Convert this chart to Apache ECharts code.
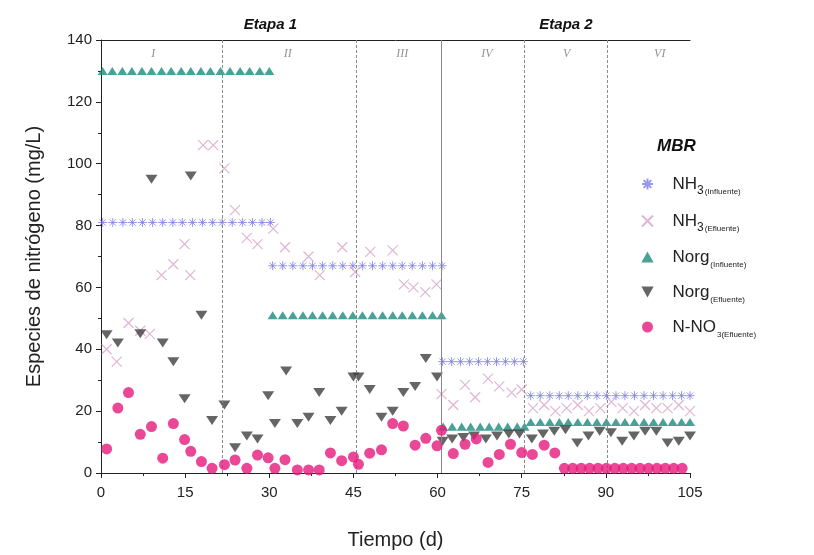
<!DOCTYPE html>
<html>
<head>
<meta charset="utf-8">
<script src="https://cdn.jsdelivr.net/npm/echarts@6/dist/echarts.min.js"></script>
<style>html,body{margin:0;padding:0;background:#fff}#c{width:814px;height:555px}</style>
</head>
<body>
<div id="c"></div>
<script>
// ---- Data ----
const nh3InfDays = [0.3,2.1,3.9,5.6,7.4,9.2,11.0,12.8,14.5,16.3,18.1,19.9,21.6,23.4,25.2,27.0,28.7,30.2,
  30.6,32.4,34.2,36.0,37.7,39.5,41.3,43.1,44.9,46.6,48.4,50.2,52.0,53.7,55.5,57.3,59.1,60.8,
  60.9,62.5,64.1,65.7,67.3,68.9,70.5,72.1,73.7,75.3,
  76.6,78.3,80.0,81.7,83.3,85.0,86.7,88.4,90.1,91.8,93.4,95.1,96.8,98.5,100.2,101.9,103.5,105.0];
const nh3InfVals = [81,81,81,81,81,81,81,81,81,81,81,81,81,81,81,81,81,81,
  67,67,67,67,67,67,67,67,67,67,67,67,67,67,67,67,67,67,
  36,36,36,36,36,36,36,36,36,36,
  25,25,25,25,25,25,25,25,25,25,25,25,25,25,25,25,25,25];

const nh3EffDays = [1.0,2.8,4.9,7.0,8.7,10.8,12.9,14.9,15.9,18.2,20.0,22.0,23.9,26.0,27.9,30.7,
  32.8,37.0,39.0,43.0,45.3,48.0,52.0,54.0,55.7,57.8,59.8,
  60.7,62.8,64.9,66.7,69.0,71.0,73.2,75.0,
  77.0,79.0,81.0,83.0,85.0,87.0,89.0,91.0,93.0,95.0,97.0,99.0,101.0,103.0,105.0];
const nh3EffVals = [40,36,48.5,46,45,64,67.5,74,64,106,106,98.5,85,76,74,79,
  73,70,64,73,65,71.5,72,61,60,58.5,61,
  25.5,22,28.5,24.5,30.5,28,26,27,
  21,22,20,21,22,20,21,23,21,20,22,21,21,22,20];

const norgInfDays = [0.3,2.0,3.8,5.5,7.3,9.0,10.8,12.5,14.3,16.0,17.8,19.5,21.3,23.0,24.8,26.5,28.3,30.0,
  30.6,32.4,34.2,36.0,37.7,39.5,41.3,43.1,44.9,46.6,48.4,50.2,52.0,53.7,55.5,57.3,59.1,60.7,
  61.0,62.6,64.3,65.9,67.6,69.2,70.9,72.5,74.2,75.5,
  76.6,78.3,80.0,81.7,83.3,85.0,86.7,88.4,90.1,91.8,93.4,95.1,96.8,98.5,100.2,101.9,103.5,105.0];
const norgInfVals = [130,130,130,130,130,130,130,130,130,130,130,130,130,130,130,130,130,130,
  51,51,51,51,51,51,51,51,51,51,51,51,51,51,51,51,51,51,
  15,15,15,15,15,15,15,15,15,15,
  16.5,16.5,16.5,16.5,16.5,16.5,16.5,16.5,16.5,16.5,16.5,16.5,16.5,16.5,16.5,16.5,16.5,16.5];

const norgEffDays = [1.0,3.0,7.0,9.0,11.0,12.9,14.9,16.0,17.9,19.8,22.0,23.9,26.0,27.9,29.8,
  31.0,33.0,35.0,37.0,38.9,40.9,42.9,45.0,45.9,47.9,50.0,52.0,53.9,56.0,57.9,59.9,
  60.9,62.6,64.6,66.5,68.6,70.6,72.7,74.6,
  76.8,78.8,80.8,82.8,84.9,86.9,88.9,90.9,92.9,95.0,97.0,99.0,101.0,103.0,105.0];
const norgEffVals = [44.7,42,45,95,42,36,24,96,51,17,22,8.2,12,11,25,
  16,33,16,18,26,17,20,31,31,27,18,20,26,28,37,31,
  10.3,11,11.5,12,11,12,12.6,12.6,
  11,12.6,13.5,14,9.7,12,13.5,13,10.3,12,13.5,13.5,9.7,10.3,12];

const no3Days = [1.0,3.0,4.9,7.0,9.0,11.0,12.9,14.9,16.0,17.9,19.8,22.0,23.9,26.0,27.9,29.8,
  31.0,32.8,35.0,37.0,38.9,40.9,42.9,45.0,45.9,47.9,50.0,52.0,53.9,56.0,57.9,59.9,
  60.7,62.8,64.9,66.9,69.0,71.0,73.0,75.0,76.9,79.0,80.9,
  82.6,84.1,85.6,87.1,88.6,90.1,91.6,93.1,94.6,96.1,97.6,99.1,100.6,102.1,103.6,105.1];
const no3Vals = [7.8,21,26,12.5,15,4.8,16,10.8,7,3.7,1.5,2.7,4.2,1.5,5.8,4.9,
  1.5,4.3,1,1,1,6.5,4,5.2,2.8,6.4,7.5,16,15.2,9,11.2,8.8,
  13.8,6.3,9.3,11,3.4,6,9.3,6.6,6,9,6.5,
  1.5,1.5,1.5,1.5,1.5,1.5,1.5,1.5,1.5,1.5,1.5,1.5,1.5,1.5,1.5,1.5];

const periodBounds = [21.7, 45.5, 60.6, 75.4, 90.2];
const periodNames = ['I','II','III','IV','V','VI'];
const periodCenters = [9.3, 33.3, 53.7, 68.8, 83.0, 99.6];
const periodLabelY = 135.5;
const stageNames = ['Etapa 1','Etapa 2'];
const stageCenters = [30.2, 82.9];
const stageSplit = 60.6;
const xTicks = [0,15,30,45,60,75,90,105];
const yTicks = [0,20,40,60,80,100,120,140];

const seriesNames = ['NH3 (Influente)','NH3 (Efluente)','Norg (Influente)','Norg (Efluente)','N-NO3 (Efluente)'];
const legendRich = {
  'NH3 (Influente)': '{m|NH}{s|3}{t|(Influente)}',
  'NH3 (Efluente)': '{m|NH}{s|3}{t|(Efluente)}',
  'Norg (Influente)': '{m|Norg}{t|(Influente)}',
  'Norg (Efluente)': '{m|Norg}{t|(Efluente)}',
  'N-NO3 (Efluente)': '{m|N-NO}{t|3(Efluente)}'
};

function pairs(d, v) { return d.map((x, i) => [x, v[i]]); }

const FONT = '"Liberation Sans", Arial, sans-serif';
const chart = echarts.init(document.getElementById('c'), null, {renderer: 'canvas'});

const asterisk = 'path://M5,0 L5,10 M0,5 L10,5 M1.5,1.5 L8.5,8.5 M1.5,8.5 L8.5,1.5';
const cross = 'path://M0,0 L10,10 M0,10 L10,0';
const upTri = 'path://M5,0 L10,9 L0,9 Z';
const downTri = 'path://M0,0 L10,0 L5,9 Z';

const option = {
  animation: false,
  backgroundColor: '#fff',
  textStyle: {fontFamily: FONT},
  title: {
    text: 'MBR', left: 652, top: 133,
    textStyle: {fontSize: 17, fontStyle: 'italic', fontWeight: 'bold', color: '#111', fontFamily: FONT}
  },
  legend: {
    data: seriesNames,
    orient: 'vertical', left: 636, top: 166,
    itemWidth: 40, itemHeight: 11, itemGap: 11,
    formatter: n => legendRich[n],
    textStyle: {
      fontFamily: FONT, color: '#222',
      rich: {
        m: {fontSize: 17, lineHeight: 26, color: '#222', fontFamily: FONT},
        s: {fontSize: 12, lineHeight: 12, padding: [14, 0, 0, 0], color: '#222', fontFamily: FONT},
        t: {fontSize: 8, lineHeight: 10, padding: [16, 0, 0, 1], color: '#222', fontFamily: FONT}
      }
    }
  },
  grid: {left: 101, right: 124, top: 40, bottom: 78, containLabel: false},
  xAxis: [{
    type: 'value', min: 0, max: 105, interval: 15, position: 'bottom',
    name: 'Tiempo (d)', nameLocation: 'middle', nameGap: 57,
    nameTextStyle: {fontSize: 20, color: '#222', fontFamily: FONT},
    axisLine: {show: true, lineStyle: {color: '#222', width: 1}},
    axisTick: {show: true, length: 5, lineStyle: {color: '#222'}},
    minorTick: {show: true, splitNumber: 2, length: 3, lineStyle: {color: '#222'}},
    splitLine: {show: false},
    axisLabel: {fontSize: 15, color: '#222', margin: 12, fontFamily: FONT,
      formatter: v => xTicks.indexOf(v) >= 0 ? String(v) : ''}
  }, {
    type: 'value', min: 0, max: 105, position: 'top',
    axisLine: {show: true, lineStyle: {color: '#222', width: 1}},
    axisTick: {show: true, inside: true, length: 6, customValues: [stageSplit], lineStyle: {color: '#222'}},
    splitLine: {show: false},
    axisLabel: {show: true, customValues: stageCenters, margin: 8,
      fontSize: 15, fontStyle: 'italic', fontWeight: 'bold', color: '#111', fontFamily: FONT,
      formatter: v => stageNames[stageCenters.indexOf(v)]}
  }],
  yAxis: {
    type: 'value', min: 0, max: 140, interval: 20,
    name: 'Especies de nitrógeno (mg/L)', nameLocation: 'middle', nameGap: 57, nameRotate: 90,
    nameTextStyle: {fontSize: 20, color: '#222', fontFamily: FONT},
    axisLine: {show: true, lineStyle: {color: '#222', width: 1}},
    axisTick: {show: true, length: 5, lineStyle: {color: '#222'}},
    minorTick: {show: true, splitNumber: 2, length: 3, lineStyle: {color: '#222'}},
    splitLine: {show: false},
    axisLabel: {fontSize: 15, color: '#222', margin: 9, fontFamily: FONT,
      formatter: v => yTicks.indexOf(v) >= 0 ? String(v) : ''}
  },
  series: [
    {
      name: 'periods', type: 'scatter', silent: true, symbolSize: 0, z: 1,
      data: periodCenters.map((d, i) => [d, periodLabelY, periodNames[i]]),
      label: {show: true, position: 'inside', formatter: p => p.data[2],
        fontFamily: '"Liberation Serif", "Times New Roman", serif', fontStyle: 'italic', fontSize: 12, color: '#777'},
      markLine: {
        silent: true, symbol: 'none', label: {show: false},
        lineStyle: {color: '#8a8a8a', width: 1, type: [3, 2]},
        data: periodBounds.map(b => ({xAxis: b, lineStyle: b === stageSplit ? {type: 'solid', color: '#888'} : {}}))
      }
    },
    {
      name: seriesNames[0], type: 'scatter', symbol: asterisk, symbolSize: 9, symbolKeepAspect: true, z: 3,
      itemStyle: {color: 'rgba(0,0,0,0)', borderColor: '#7d7de6', borderWidth: 1},
      data: pairs(nh3InfDays, nh3InfVals)
    },
    {
      name: seriesNames[1], type: 'scatter', symbol: cross, symbolSize: 10, symbolKeepAspect: true, z: 3,
      itemStyle: {color: 'rgba(0,0,0,0)', borderColor: '#d7a3c8', borderWidth: 1.2},
      data: pairs(nh3EffDays, nh3EffVals)
    },
    {
      name: seriesNames[2], type: 'scatter', symbol: upTri, symbolSize: [10, 9], symbolKeepAspect: true, z: 4,
      itemStyle: {color: '#1b8a7e'},
      data: pairs(norgInfDays, norgInfVals)
    },
    {
      name: seriesNames[3], type: 'scatter', symbol: downTri, symbolSize: [12, 10], symbolKeepAspect: true, z: 4,
      itemStyle: {color: '#3f3f3f'},
      data: pairs(norgEffDays, norgEffVals)
    },
    {
      name: seriesNames[4], type: 'scatter', symbol: 'circle', symbolSize: 11, z: 5,
      itemStyle: {color: '#e6197d'},
      data: pairs(no3Days, no3Vals)
    }
  ]
};
chart.setOption(option);
</script>
</body>
</html>
